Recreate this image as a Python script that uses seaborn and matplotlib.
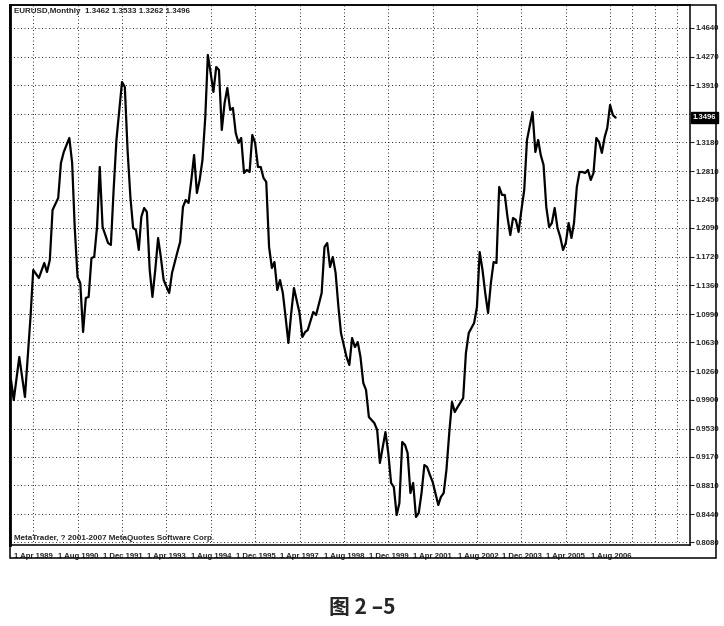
import matplotlib
matplotlib.use("Agg")
import matplotlib.pyplot as plt
import matplotlib.transforms as mtransforms
from matplotlib import font_manager
from matplotlib.patches import Rectangle
import pandas as pd
import seaborn as sns

# monthly closes, months counted from 1 Apr 1989
month_idx = [
    0, 1, 3, 5, 6, 7, 8, 10, 12, 13,
    14, 15, 17, 18, 19, 21, 22, 23, 24, 25,
    26, 27, 28, 29, 30, 31, 32, 33, 35, 36,
    37, 38, 40, 41, 42, 43, 44, 45, 46, 47,
    48, 49, 50, 51, 52, 53, 54, 55, 57, 58,
    60, 61, 62, 63, 64, 65, 66, 67, 68, 69,
    70, 71, 72, 73, 74, 75, 76, 77, 78, 79,
    80, 81, 82, 83, 84, 85, 86, 87, 88, 89,
    90, 91, 92, 93, 94, 95, 96, 97, 98, 99,
    100, 101, 102, 104, 105, 106, 107, 109, 110, 112,
    113, 114, 115, 116, 117, 118, 119, 121, 122, 123,
    124, 125, 126, 127, 128, 129, 131, 132, 133, 134,
    135, 136, 137, 138, 139, 140, 141, 142, 143, 144,
    145, 146, 147, 148, 149, 150, 151, 152, 154, 155,
    156, 157, 158, 159, 160, 161, 163, 164, 165, 167,
    168, 169, 170, 171, 172, 173, 174, 175, 176, 177,
    178, 179, 180, 181, 182, 183, 184, 185, 186, 188,
    189, 190, 191, 192, 193, 194, 195, 196, 197, 198,
    199, 200, 201, 202, 203, 204, 205, 206, 207, 208,
    209, 210, 211, 212, 213, 214, 215, 216, 217, 218,
]
close = [
    1.0150, 0.9894, 1.0443, 0.9933, 1.0443, 1.0953, 1.1553, 1.1451, 1.1642, 1.1527,
    1.1680, 1.2318, 1.2471, 1.2918, 1.3058, 1.3237, 1.2918, 1.2101, 1.1464, 1.1387,
    1.0762, 1.1196, 1.1209, 1.1706, 1.1719, 1.2101, 1.2867, 1.2101, 1.1897, 1.1872,
    1.2573, 1.3211, 1.3951, 1.3887, 1.3084, 1.2484, 1.2089, 1.2063, 1.1808, 1.2229,
    1.2344, 1.2293, 1.1553, 1.1209, 1.1553, 1.1961, 1.1719, 1.1425, 1.1259, 1.1515,
    1.1782, 1.1910, 1.2356, 1.2446, 1.2408, 1.2701, 1.3020, 1.2535, 1.2701, 1.2956,
    1.3505, 1.4296, 1.4066, 1.3824, 1.4142, 1.4104, 1.3339, 1.3683, 1.3875, 1.3594,
    1.3619, 1.3301, 1.3173, 1.3237, 1.2790, 1.2829, 1.2803, 1.3275, 1.3173, 1.2867,
    1.2867, 1.2727, 1.2676, 1.1846, 1.1578, 1.1655, 1.1298, 1.1425, 1.1259, 1.0953,
    1.0622, 1.1004, 1.1323, 1.1004, 1.0698, 1.0762, 1.0787, 1.1017, 1.0979, 1.1259,
    1.1846, 1.1897, 1.1591, 1.1719, 1.1515, 1.1081, 1.0749, 1.0443, 1.0341, 1.0685,
    1.0570, 1.0634, 1.0443, 1.0111, 1.0022, 0.9678, 0.9601, 0.9512, 0.9091, 0.9295,
    0.9486, 0.9218, 0.8836, 0.8785, 0.8427, 0.8580, 0.9359, 0.9320, 0.9218, 0.8708,
    0.8836, 0.8402, 0.8453, 0.8708, 0.9065, 0.9040, 0.8938, 0.8849, 0.8555, 0.8657,
    0.8708, 0.9001, 0.9473, 0.9869, 0.9741, 0.9805, 0.9920, 1.0494, 1.0749, 1.0877,
    1.1081, 1.1782, 1.1553, 1.1259, 1.1004, 1.1387, 1.1655, 1.1642, 1.2612, 1.2510,
    1.2510, 1.2229, 1.1999, 1.2216, 1.2191, 1.2038, 1.2318, 1.2573, 1.3211, 1.3568,
    1.3058, 1.3211, 1.3020, 1.2892, 1.2356, 1.2101, 1.2152, 1.2344, 1.2089, 1.1974,
    1.1808, 1.1897, 1.2152, 1.1961, 1.2152, 1.2612, 1.2803, 1.2803, 1.2790, 1.2829,
    1.2701, 1.2790, 1.3237, 1.3186, 1.3046, 1.3250, 1.3364, 1.3658, 1.3530, 1.3496,
]

x_labels = ["1 Apr 1989", "1 Aug 1990", "1 Dec 1991", "1 Apr 1993", "1 Aug 1994",
            "1 Dec 1995", "1 Apr 1997", "1 Aug 1998", "1 Dec 1999", "1 Apr 2001",
            "1 Aug 2002", "1 Dec 2003", "1 Apr 2005", "1 Aug 2006"]
y_labels = ["1.4640", "1.4270", "1.3910", "1.3540", "1.3180", "1.2810", "1.2450",
            "1.2090", "1.1720", "1.1360", "1.0990", "1.0630", "1.0260", "0.9900",
            "0.9530", "0.9170", "0.8810", "0.8440", "0.8080"]

title_text = "EURUSD,Monthly  1.3462 1.3533 1.3262 1.3496"
last_price = "1.3496"
copyright_text = "MetaTrader, ? 2001-2007 MetaQuotes Software Corp."
caption = "图 2 –5"

sns.set_style("white")
names = {f.name for f in font_manager.fontManager.ttflist}
small_font = "Liberation Sans Narrow" if "Liberation Sans Narrow" in names else "Liberation Sans"
plt.rcParams["font.family"] = [small_font, "DejaVu Sans"]

start = pd.Timestamp("1989-04-01")
df = pd.DataFrame({
    "date": [start + pd.DateOffset(months=m) for m in month_idx],
    "close": close,
})

W, H = 724, 626
fig = plt.figure(figsize=(W / 100, H / 100), dpi=100)
ax = fig.add_axes([10 / W, 1 - 545 / H, 680 / W, 540 / H])

sns.lineplot(data=df, x="date", y="close", color="black", lw=1.6, ax=ax)

ax.set_xlim(pd.Timestamp("1989-03-21"), pd.Timestamp("2009-08-25"))
ax.set_ylim(0.8045, 1.4933)
ax.set_xlabel("")
ax.set_ylabel("")

# price scale on the right; the 1.3540 level sits under the current price box
ax.yaxis.tick_right()
ax.set_yticks([float(s) for s in y_labels])
ax.set_yticklabels(["" if s == "1.3540" else s for s in y_labels],
                   fontsize=5.6, fontweight="bold")
ax.tick_params(axis="y", direction="out", length=3, width=0.8, pad=1)

# time scale
label_dates = pd.to_datetime(x_labels, format="%d %b %Y")
ax.set_xticks(label_dates)
ax.set_xticklabels(x_labels, fontsize=5.6, fontweight="bold", ha="left")
ax.set_xticks(pd.date_range("1989-04-01", "2009-08-01", freq="8MS"), minor=True)
ax.tick_params(axis="x", which="major", direction="out", length=4, width=0.8, pad=1.5)
ax.tick_params(axis="x", which="minor", length=0)
shift = mtransforms.ScaledTranslation(2 / 72, 0, fig.dpi_scale_trans)
for lab in ax.get_xticklabels():
    lab.set_transform(lab.get_transform() + shift)

ax.grid(True, axis="x", which="minor", color="black", linestyle=(0, (1, 2.6)), lw=0.7, alpha=0.85)
ax.grid(True, axis="y", which="major", color="black", linestyle=(0, (1, 2.6)), lw=0.7, alpha=0.85)
ax.grid(False, axis="x", which="major")

for s in ax.spines.values():
    s.set_visible(True)
    s.set_color("black")
    s.set_linewidth(1.1)
ax.spines["left"].set_linewidth(2.0)

# current price box
bt = mtransforms.blended_transform_factory(ax.transAxes, ax.transData)
ax.text(1.004, 1.3496, last_price, transform=bt, ha="left", va="center",
        fontsize=5.6, fontweight="bold", color="white",
        bbox=dict(boxstyle="square,pad=0.25", fc="black", ec="black"))

ax.text(0.006, 0.994, title_text, transform=ax.transAxes, ha="left", va="top",
        fontsize=5.8, fontweight="bold")
ax.text(0.006, 0.006, copyright_text, transform=ax.transAxes, ha="left", va="bottom",
        fontsize=5.8, fontweight="bold")

# outer frame around chart and scales
fig.add_artist(Rectangle((10 / W, 1 - 558 / H), 706 / W, 553 / H, transform=fig.transFigure,
                         fill=False, ec="black", lw=1.1))

fig.text(0.50, 1 - 608 / H, caption, ha="center", va="center", fontsize=15,
         fontweight="heavy", family=["Noto Sans CJK SC", "DejaVu Sans"])

fig.savefig("out.png", dpi=100, facecolor="white")
